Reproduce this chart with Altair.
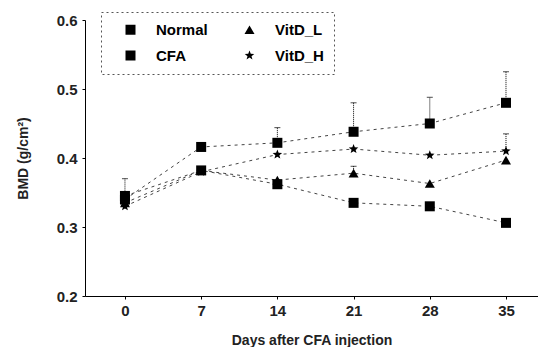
import altair as alt
import pandas as pd

days = [0, 7, 14, 21, 28, 35]
series = ["Normal", "CFA", "VitD_L", "VitD_H"]
normal = [0.345, 0.382, 0.362, 0.335, 0.330, 0.306]
cfa = [0.340, 0.416, 0.422, 0.438, 0.450, 0.480]
vitd_l = [0.335, 0.382, 0.368, 0.378, 0.363, 0.397]
vitd_h = [0.330, 0.380, 0.405, 0.413, 0.404, 0.410]
err_normal = [0.0, 0.0, 0.0, 0.0, 0.0, 0.0]
err_cfa = [0.030, 0.0, 0.022, 0.042, 0.038, 0.045]
err_vitd_l = [0.0, 0.0, 0.0, 0.010, 0.0, 0.0]
err_vitd_h = [0.0, 0.0, 0.0, 0.0, 0.0, 0.025]

vals = [normal, cfa, vitd_l, vitd_h]
errs = [err_normal, err_cfa, err_vitd_l, err_vitd_h]
rows = []
for s, v, e in zip(series, vals, errs):
    for d, y, er in zip(days, v, e):
        rows.append({"day": d, "bmd": y, "series": s, "hi": y + er, "has_err": er > 0})
df = pd.DataFrame(rows)

star = "M0,-1L0.25,-0.35L0.95,-0.31L0.4,0.13L0.59,0.81L0,0.42L-0.59,0.81L-0.4,0.13L-0.95,-0.31L-0.25,-0.35Z"

xs = alt.X("day:Q", scale=alt.Scale(domain=[-3.67, 37.94], nice=False, zero=False),
           axis=alt.Axis(values=days, title="Days after CFA injection", grid=False,
                         tickSize=3, labelPadding=4, titlePadding=15, domainColor="black",
                         tickColor="black"))
ys = alt.Y("bmd:Q", scale=alt.Scale(domain=[0.2, 0.6], nice=False, zero=False),
           axis=alt.Axis(values=[0.2, 0.3, 0.4, 0.5, 0.6], format=".1f", title="BMD (g/cm²)",
                         grid=False, tickSize=3, labelPadding=5, titlePadding=26,
                         domainColor="black", tickColor="black"))

base = alt.Chart(df)

lines = base.mark_line(color="#444", strokeWidth=1, strokeDash=[3, 4]).encode(
    x=xs, y=ys, detail="series:N")

errbars = base.transform_filter("datum.has_err").mark_rule(
    color="black", strokeWidth=1, strokeDash=[1, 1]).encode(
    x="day:Q", y="bmd:Q", y2="hi:Q")
caps = base.transform_filter("datum.has_err").mark_tick(
    color="black", thickness=1, size=6, orient="horizontal").encode(
    x="day:Q", y="hi:Q")

points = base.mark_point(filled=True, opacity=1, size=100).encode(
    x="day:Q", y="bmd:Q",
    shape=alt.Shape("series:N", sort=series,
                    scale=alt.Scale(domain=series, range=["square", "square", "triangle-up", star]),
                    legend=alt.Legend(title=None, orient="none", legendX=16, legendY=-8,
                                      columns=2, columnPadding=22, rowPadding=9,
                                      labelFontSize=15, symbolSize=100, symbolFillColor="black",
                                      symbolStrokeColor="black", strokeColor="#555",
                                      padding=10, labelOffset=18, symbolOffset=12,
                                      labelFont="Liberation Sans", labelFontWeight="bold")),
    color=alt.value("black"))

chart = alt.layer(lines, errbars, caps, points).properties(
    width=453, height=276,
    padding={"left": 8, "top": 3, "right": 0, "bottom": 0}
).configure_view(stroke=None).configure_axis(
    labelFont="Liberation Sans", titleFont="Liberation Sans", labelFontSize=15,
    titleFontSize=14, labelColor="#222", titleColor="#222", titleFontWeight="bold",
    labelFontWeight="bold"
).configure_legend(strokeDash=[2, 3])

chart.save("out.html", embed_options={"renderer": "svg", "actions": False})
